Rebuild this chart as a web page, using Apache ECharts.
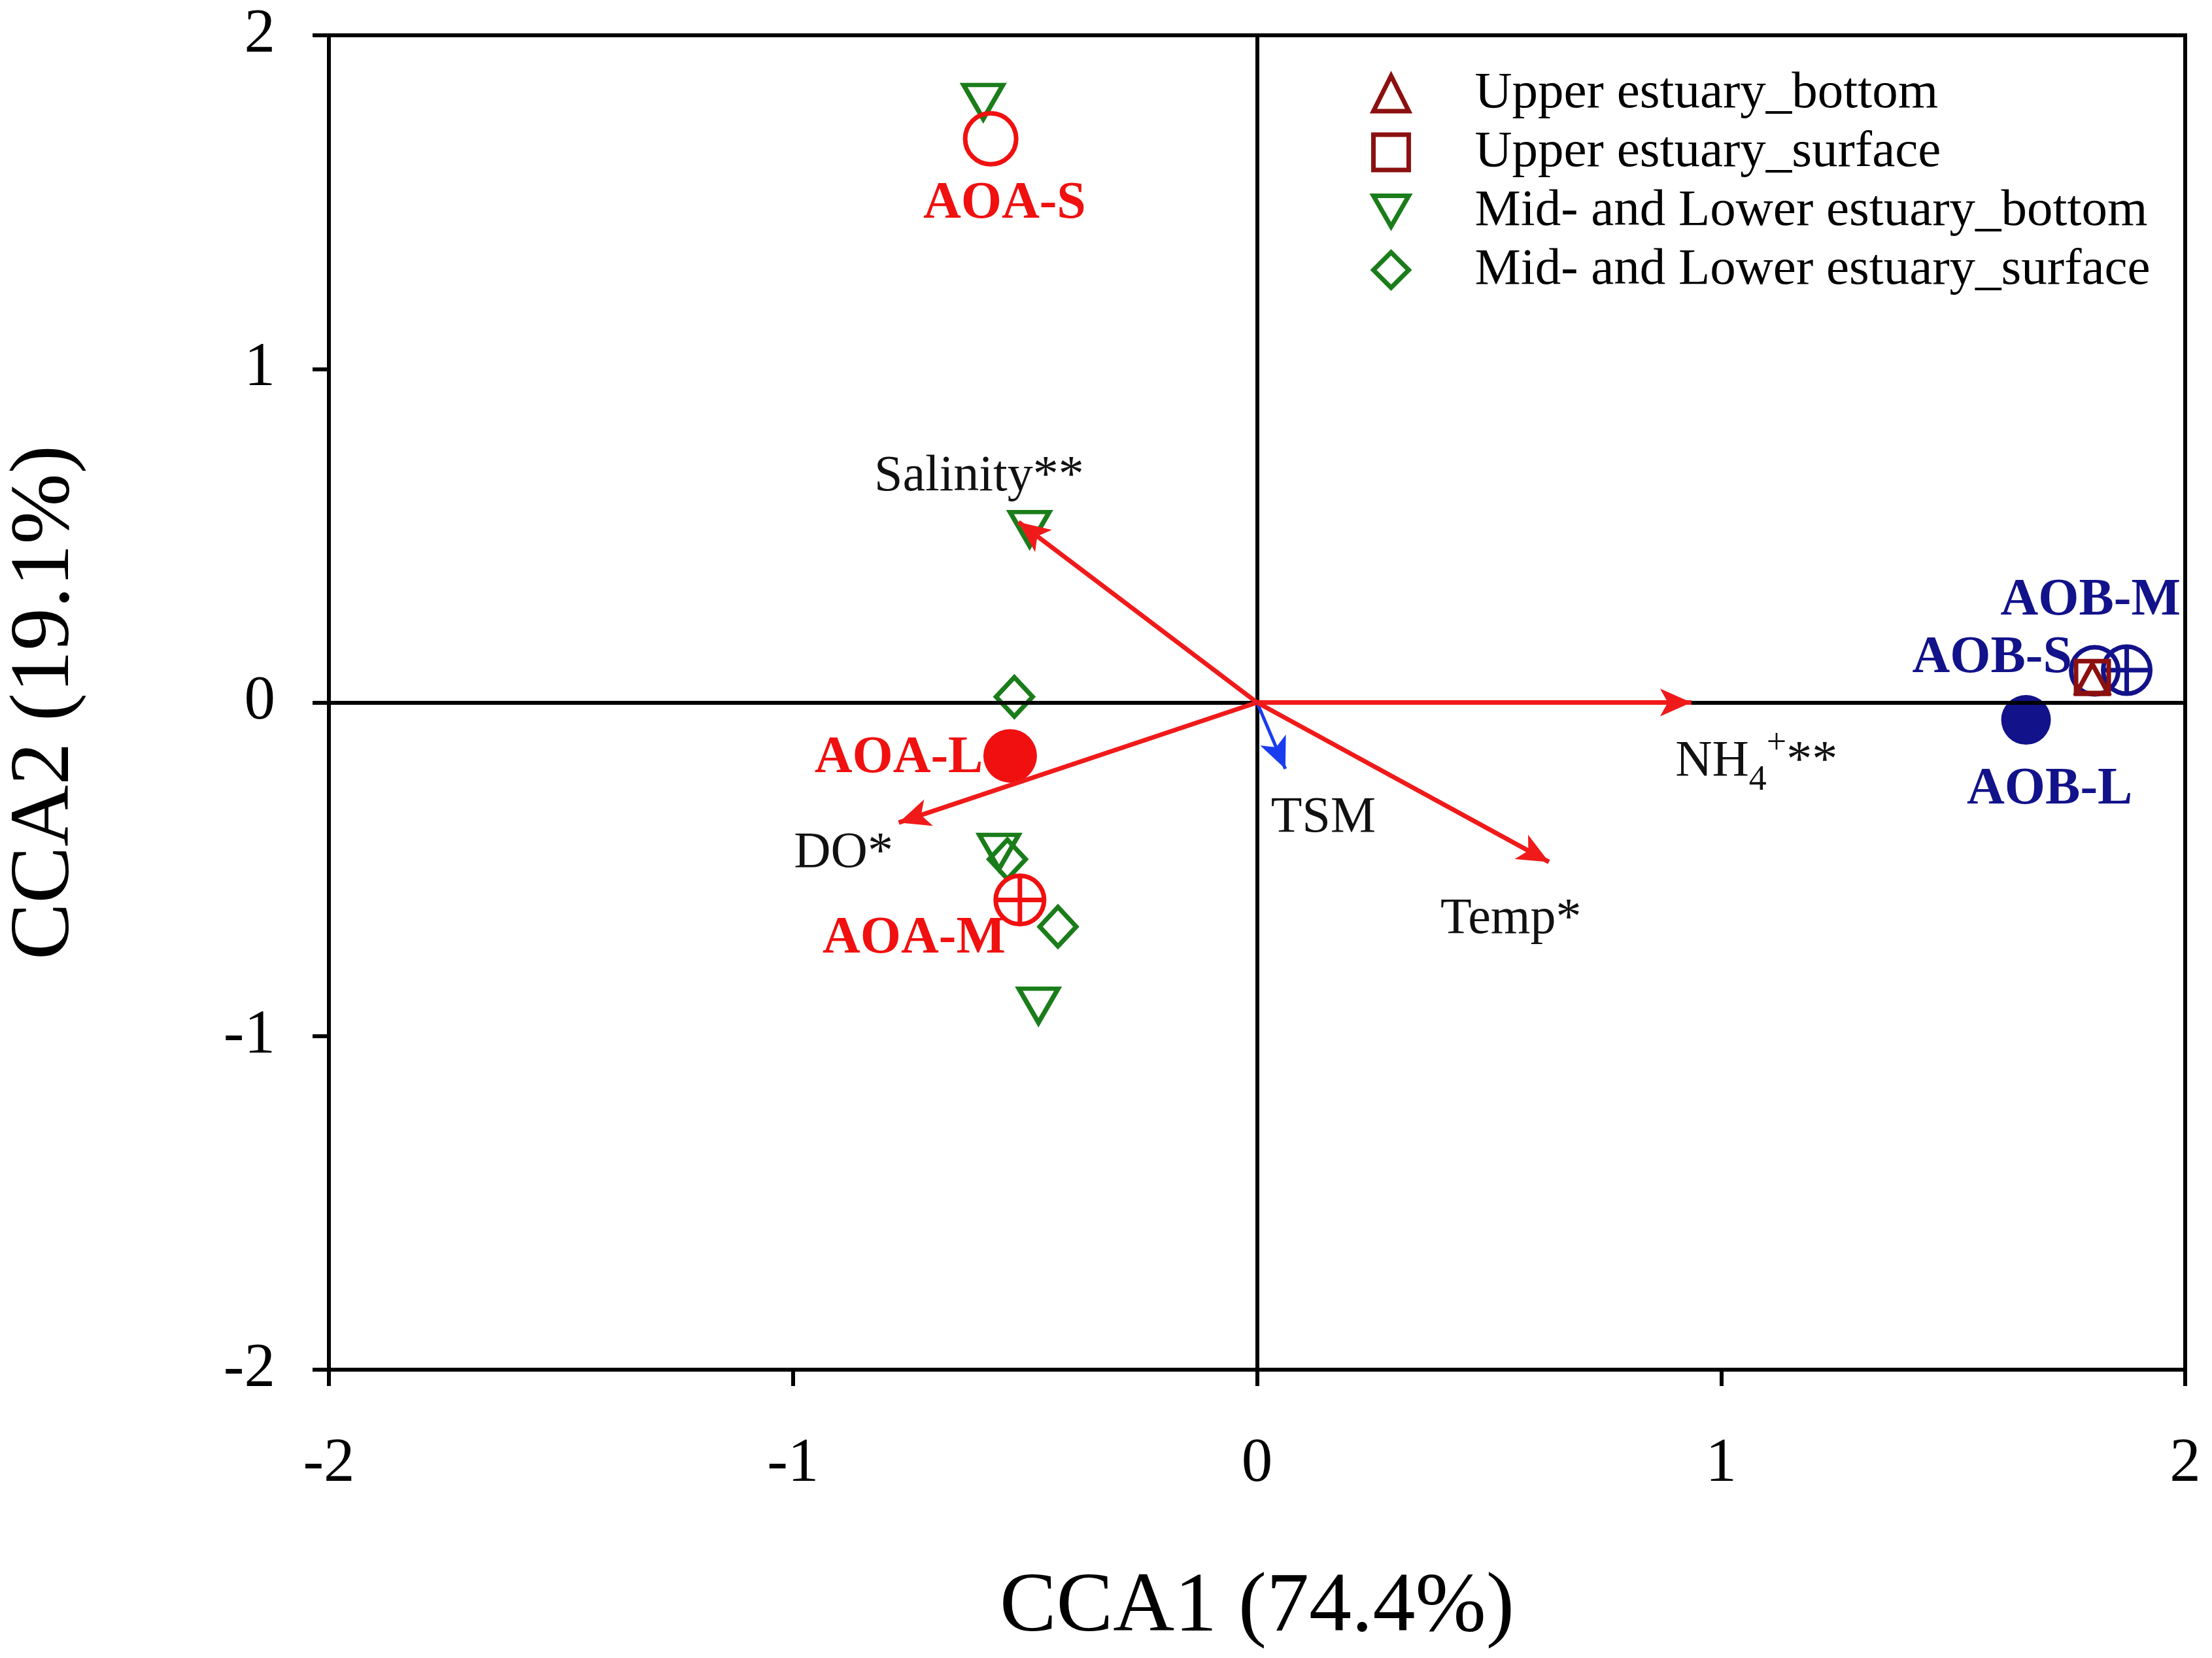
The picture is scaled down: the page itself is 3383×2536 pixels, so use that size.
<!DOCTYPE html>
<html>
<head>
<meta charset="utf-8">
<script src="https://cdn.jsdelivr.net/npm/echarts@6/dist/echarts.min.js"></script>
<style>
  html, body { margin: 0; padding: 0; background: #fff; }
  #chart { width: 3383px; height: 2536px; }
</style>
</head>
<body>
<div id="chart"></div>
<script>
// sample groups (site scores)
const groupNames = ['Upper estuary_bottom', 'Upper estuary_surface', 'Mid- and Lower estuary_bottom', 'Mid- and Lower estuary_surface'];
const upperBottom = [[1.80, 0.072]];
const upperSurface = [[1.80, 0.075]];
const midLowerBottom = [[-0.59, 1.80], [-0.49, 0.52], [-0.556, -0.448], [-0.471, -0.909]];
const midLowerSurface = [[-0.523, 0.017], [-0.538, -0.47], [-0.429, -0.672]];

// species scores
const aoaNames = ['AOA-S', 'AOA-M', 'AOA-L'];
const aoaPoints = [[-0.574, 1.69], [-0.511, -0.592], [-0.532, -0.16]];
const aoaLabelAt = [[-0.544, 1.493], [-0.739, -0.71], [-0.772, -0.169]];
const aobNames = ['AOB-S', 'AOB-M', 'AOB-L'];
const aobPoints = [[1.805, 0.095], [1.874, 0.097], [1.657, -0.052]];
const aobLabelAt = [[1.584, 0.131], [1.796, 0.304], [1.708, -0.262]];

// environmental vectors
const envNames = ['Salinity**', 'DO*', 'TSM', 'Temp*', 'NH4+**'];
const envVectors = [[-0.514, 0.541], [-0.772, -0.36], [0.061, -0.199], [0.629, -0.478], [0.936, 0]];
const envLabelAt = [[-0.599, 0.677], [-0.891, -0.452], [0.143, -0.347], [0.547, -0.651], [1.076, -0.178]];

const axisTicks = [-2, -1, 0, 1, 2];

const FONT = 'Liberation Serif';
const RED = '#f01010';
const NAVY = '#12128a';
const GREEN = '#1a7d1a';
const MAROON = '#8c1010';
const crossCircle = 'path://M50 0A50 50 0 1 1 50 100A50 50 0 1 1 50 0ZM0 50L100 50M50 0L50 100';
const downTriangle = 'path://M0 0L100 0L50 86.6Z';

var myChart = echarts.init(document.getElementById('chart'));

function openStyle(c) {
  return { color: 'rgba(0,0,0,0)', borderColor: c, borderWidth: 7, opacity: 1 };
}

function labelSeries(names, pos, color, bold, size) {
  return {
    type: 'scatter',
    silent: true,
    symbolSize: 0,
    z: 6,
    itemStyle: { opacity: 1 },
    data: names.map((n, i) => ({ name: n, value: pos[i] })),
    label: {
      show: true,
      position: 'inside',
      formatter: p => p.name === 'NH4+**' ? '{t|NH}{sub|4}{sup|+}{t|**}' : p.name,
      color: color,
      fontFamily: FONT,
      fontWeight: bold ? 'bold' : 'normal',
      fontSize: size,
      rich: {
        t: { fontFamily: FONT, fontSize: size, color: color, lineHeight: 110, verticalAlign: 'middle' },
        sub: { fontFamily: FONT, fontSize: 54, color: color, lineHeight: 54, verticalAlign: 'bottom' },
        sup: { fontFamily: FONT, fontSize: 54, color: color, lineHeight: 54, verticalAlign: 'top' }
      }
    }
  };
}

var option = {
  animation: false,
  backgroundColor: '#fff',
  grid: {
    left: 503, right: 41, top: 54, bottom: 441,
    outerBoundsMode: 'none',
    show: true, borderColor: '#000', borderWidth: 6, backgroundColor: 'transparent'
  },
  legend: {
    data: [
      { name: groupNames[0], icon: 'triangle', itemStyle: { color: 'rgba(0,0,0,0)', borderColor: MAROON, borderWidth: 7 } },
      { name: groupNames[1], icon: 'rect', itemStyle: { color: 'rgba(0,0,0,0)', borderColor: MAROON, borderWidth: 7 } },
      { name: groupNames[2], icon: downTriangle, itemStyle: { color: 'rgba(0,0,0,0)', borderColor: GREEN, borderWidth: 7 } },
      { name: groupNames[3], icon: 'diamond', itemStyle: { color: 'rgba(0,0,0,0)', borderColor: GREEN, borderWidth: 7 } }
    ],
    orient: 'vertical',
    left: 2092,
    top: 93,
    itemWidth: 54,
    itemHeight: 54,
    itemGap: 0,
    selectedMode: false,
    textStyle: { fontFamily: FONT, fontSize: 79, color: '#000', lineHeight: 90, padding: [0, 0, 0, 96] }
  },
  xAxis: {
    type: 'value', min: axisTicks[0], max: axisTicks[axisTicks.length - 1], interval: 1,
    name: 'CCA1 (74.4%)', nameLocation: 'middle', nameGap: 300,
    nameTextStyle: { fontFamily: FONT, fontSize: 130, color: '#000' },
    splitLine: { show: false },
    axisLine: { onZero: false, lineStyle: { color: '#000', width: 6 } },
    axisTick: { length: 25, lineStyle: { color: '#000', width: 6 } },
    axisLabel: { fontFamily: FONT, fontSize: 95, color: '#000', margin: 98 }
  },
  yAxis: {
    type: 'value', min: axisTicks[0], max: axisTicks[axisTicks.length - 1], interval: 1,
    name: 'CCA2 (19.1%)', nameLocation: 'middle', nameGap: 368,
    nameTextStyle: { fontFamily: FONT, fontSize: 130, color: '#000' },
    splitLine: { show: false },
    axisLine: { onZero: false, lineStyle: { color: '#000', width: 6 } },
    axisTick: { length: 25, lineStyle: { color: '#000', width: 6 } },
    axisLabel: { fontFamily: FONT, fontSize: 95, color: '#000', margin: 82 }
  },
  series: [
    // zero lines
    {
      type: 'scatter', data: [], silent: true, z: 1,
      markLine: {
        silent: true, symbol: 'none', animation: false,
        label: { show: false },
        lineStyle: { color: '#000', width: 6, type: 'solid', opacity: 1 },
        data: [{ xAxis: 0 }, { yAxis: 0 }]
      }
    },
    // environmental arrows
    {
      type: 'scatter', data: [], silent: true, z: 3,
      markLine: {
        silent: true, animation: false,
        symbol: ['none', 'arrow'], symbolSize: [32, 48],
        label: { show: false },
        lineStyle: { color: '#f01a1a', width: 7, type: 'solid', opacity: 1 },
        data: envVectors.map((v, i) => [
          { coord: [0, 0] },
          { coord: v, lineStyle: { color: envNames[i] === 'TSM' ? '#1a3cf0' : '#f01a1a', width: envNames[i] === 'TSM' ? 5 : 7 } }
        ])
      }
    },
    {
      name: groupNames[0], type: 'scatter', z: 5, symbol: 'triangle', symbolSize: [48, 44],
      itemStyle: openStyle(MAROON), data: upperBottom
    },
    {
      name: groupNames[1], type: 'scatter', z: 5, symbol: 'rect', symbolSize: 50,
      itemStyle: openStyle(MAROON), data: upperSurface
    },
    {
      name: groupNames[2], type: 'scatter', z: 4, symbol: downTriangle, symbolSize: [60, 52],
      itemStyle: openStyle(GREEN), data: midLowerBottom
    },
    {
      name: groupNames[3], type: 'scatter', z: 4, symbol: 'diamond', symbolSize: [56, 60],
      itemStyle: openStyle(GREEN), data: midLowerSurface
    },
    // species markers
    {
      type: 'scatter', silent: true, z: 4,
      data: [
        { value: aoaPoints[0], symbol: 'circle', symbolSize: 78, itemStyle: openStyle(RED) },
        { value: aoaPoints[1], symbol: crossCircle, symbolSize: 74, itemStyle: openStyle(RED) },
        { value: aoaPoints[2], symbol: 'circle', symbolSize: 82, itemStyle: { color: RED, opacity: 1 } }
      ]
    },
    {
      type: 'scatter', silent: true, z: 4,
      data: [
        { value: aobPoints[0], symbol: 'circle', symbolSize: 72, itemStyle: openStyle(NAVY) },
        { value: aobPoints[1], symbol: crossCircle, symbolSize: 72, itemStyle: openStyle(NAVY) },
        { value: aobPoints[2], symbol: 'circle', symbolSize: 76, itemStyle: { color: NAVY, opacity: 1 } }
      ]
    },
    labelSeries(aoaNames, aoaLabelAt, RED, true, 80),
    labelSeries(aobNames, aobLabelAt, NAVY, true, 80),
    labelSeries(envNames, envLabelAt, '#111', false, 78)
  ]
};

myChart.setOption(option);
</script>
</body>
</html>
